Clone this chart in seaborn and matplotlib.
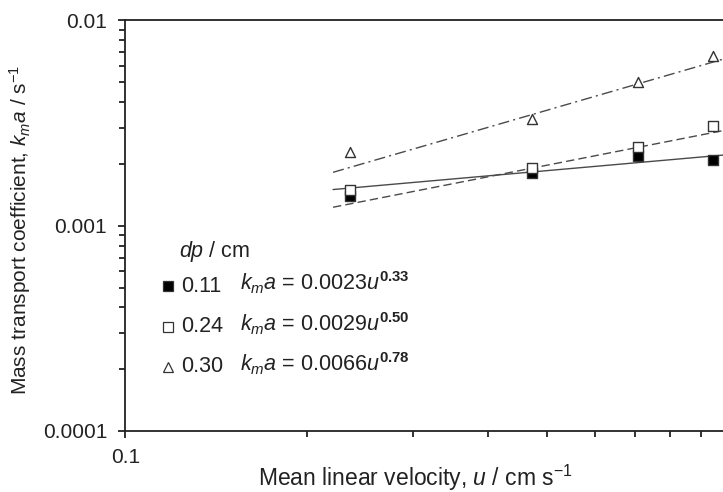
import numpy as np
import pandas as pd
import matplotlib
matplotlib.use("Agg")
import matplotlib.pyplot as plt
from matplotlib.ticker import LogLocator, FixedFormatter, FixedLocator, NullFormatter
import seaborn as sns

# ---- data ----
velocity = [0.236, 0.472, 0.708, 0.944]
kma_011 = [0.00140, 0.00180, 0.00219, 0.00209]
kma_024 = [0.00150, 0.00192, 0.00243, 0.00307]
kma_030 = [0.00228, 0.00330, 0.00503, 0.00671]

particle_sizes = ["0.11", "0.24", "0.30"]
equations = [r"$k_m a$ = 0.0023$u^{\mathbf{0.33}}$",
             r"$k_m a$ = 0.0029$u^{\mathbf{0.50}}$",
             r"$k_m a$ = 0.0066$u^{\mathbf{0.78}}$"]

trend_u = [0.221, 1.0]
trend_011 = [0.00150, 0.00222]
trend_024 = [0.00123, 0.00294]
trend_030 = [0.00182, 0.00659]

y_ticks = [0.0001, 0.001, 0.01]
y_ticklabels = ["0.0001", "0.001", "0.01"]
x_ticks = [0.1]
x_ticklabels = ["0.1"]

# ---- style ----
sns.set_style("ticks")
plt.rcParams["font.family"] = ["Liberation Sans", "DejaVu Sans"]
plt.rcParams["mathtext.fontset"] = "custom"
plt.rcParams["mathtext.rm"] = "Liberation Sans"
plt.rcParams["mathtext.it"] = "Liberation Sans:italic"
plt.rcParams["mathtext.bf"] = "Liberation Sans:bold"

points = pd.DataFrame({
    "u": velocity * 3,
    "kma": kma_011 + kma_024 + kma_030,
    "dp": [particle_sizes[0]] * 4 + [particle_sizes[1]] * 4 + [particle_sizes[2]] * 4,
})
trends = pd.DataFrame({
    "u": trend_u * 3,
    "kma": trend_011 + trend_024 + trend_030,
    "dp": [particle_sizes[0]] * 2 + [particle_sizes[1]] * 2 + [particle_sizes[2]] * 2,
})

W, H = 723, 492
fig = plt.figure(figsize=(W / 100, H / 100), dpi=100)
left_px, right_px, top_px, bottom_px = 125.3, 728.5, 20.4, 431.0
ax = fig.add_axes([left_px / W, 1 - bottom_px / H,
                   (right_px - left_px) / W, (bottom_px - top_px) / H])
ax.set_xscale("log")
ax.set_yscale("log")

line_col = "#4a4a4a"
styles = {
    "0.11": "-",
    "0.24": (0, (6, 3)),
    "0.30": (0, (8, 3, 1.5, 3)),
}
for dp, grp in trends.groupby("dp"):
    sns.lineplot(data=grp, x="u", y="kma", ax=ax, color=line_col, lw=1.0,
                 linestyle=styles[dp], legend=False)

markers = {"0.11": "s", "0.24": "s", "0.30": "^"}
faces = {"0.11": "black", "0.24": "white", "0.30": "white"}
for dp, grp in points.groupby("dp"):
    sns.scatterplot(data=grp, x="u", y="kma", ax=ax, marker=markers[dp],
                    s=52, color=faces[dp], edgecolor="#333333",
                    linewidth=1.0, legend=False, zorder=3)

ax.set_xlim(0.1, 1.0)
ax.set_ylim(0.0001, 0.01)

ax.yaxis.set_major_locator(FixedLocator(y_ticks))
ax.yaxis.set_major_formatter(FixedFormatter(y_ticklabels))
ax.yaxis.set_minor_locator(LogLocator(base=10, subs=np.arange(2, 10)))
ax.yaxis.set_minor_formatter(NullFormatter())
ax.xaxis.set_major_locator(FixedLocator(x_ticks))
ax.xaxis.set_major_formatter(FixedFormatter(x_ticklabels))
ax.xaxis.set_minor_locator(LogLocator(base=10, subs=np.arange(2, 10)))
ax.xaxis.set_minor_formatter(NullFormatter())

for s in ["left", "bottom", "top", "right"]:
    ax.spines[s].set_color("#222222")
    ax.spines[s].set_linewidth(1.3)
ax.tick_params(which="major", direction="out", length=5, width=1.3,
               color="#222222", labelsize=15, labelcolor="#222222")
ax.tick_params(axis="y", which="major", pad=8)
ax.tick_params(axis="x", which="major", pad=7)
ax.tick_params(which="minor", direction="out", length=4, width=1.3, color="#222222")

ax.set_xlabel(r"Mean linear velocity, $u$ / cm s$^{\mathregular{-1}}$", fontsize=16.5, color="#222222")
ax.set_ylabel(r"Mass transport coefficient, $k_m a$ / s$^{\mathregular{-1}}$", fontsize=15, color="#222222")
ax.xaxis.set_label_coords((415 - left_px) / (right_px - left_px), -(478 - bottom_px) / (bottom_px - top_px))
ax.yaxis.set_label_coords(-(125.3 - 20) / (right_px - left_px), (bottom_px - 230) / (bottom_px - top_px))
ax.xaxis.label.set_va("center")
ax.yaxis.label.set_va("center")

# ---- in-plot legend ----
def axpt(px, py):
    return ((px - left_px) / (right_px - left_px), (bottom_px - py) / (bottom_px - top_px))

ax.text(*axpt(179, 251), r"$dp$ / cm", transform=ax.transAxes, fontsize=15.5,
        va="center", ha="left", color="#222222")
rows_y = [286, 327, 367]
for i, dp in enumerate(particle_sizes):
    mx, my = axpt(168, rows_y[i])
    ax.plot([mx], [my], transform=ax.transAxes, marker=markers[dp], ms=6.5 if i < 2 else 7,
            mfc=faces[dp], mec="#333333", mew=0.9, ls="none", clip_on=False)
    ax.text(*axpt(181, rows_y[i]), dp, transform=ax.transAxes, fontsize=15.5,
            va="center", ha="left", color="#222222")
    ax.text(*axpt(240, rows_y[i] - 3), equations[i], transform=ax.transAxes,
            fontsize=15.5, va="center", ha="left", color="#222222")

fig.savefig("out.png", dpi=100)
